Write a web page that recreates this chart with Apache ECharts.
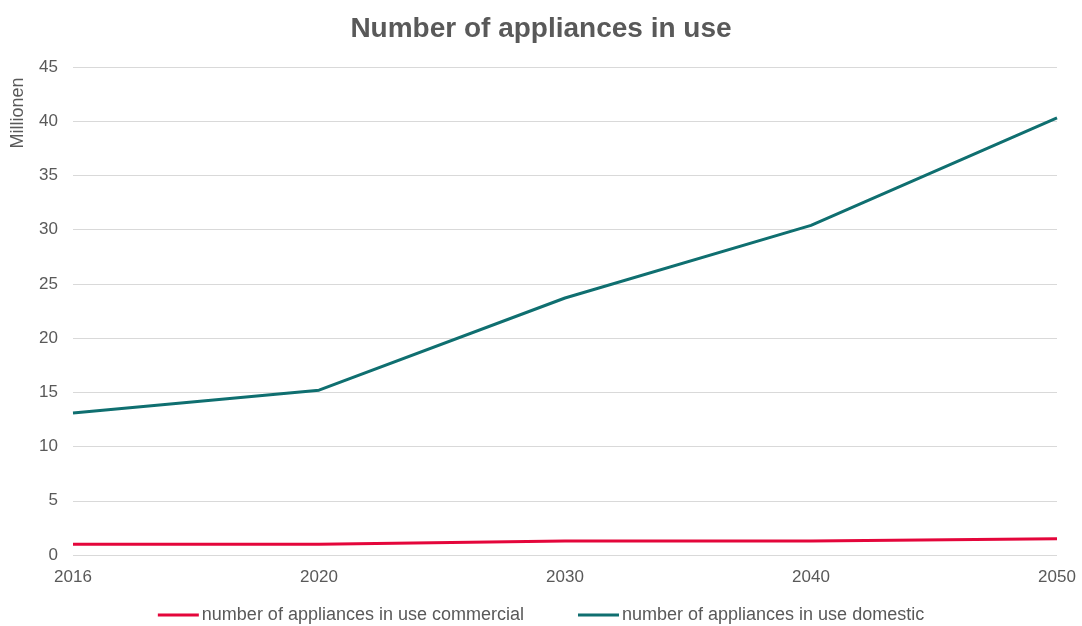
<!DOCTYPE html>
<html>
<head>
<meta charset="utf-8">
<script src="https://cdn.jsdelivr.net/npm/echarts@6/dist/echarts.min.js"></script>
<style>
  html, body { margin: 0; padding: 0; background: #ffffff; }
  #chart { width: 1082px; height: 626px; }
</style>
</head>
<body>
<div id="chart"></div>
<script>
// Years on the horizontal axis
const years = ['2016', '2020', '2030', '2040', '2050'];
// Appliances in use, in millions
const commercial = [1.0, 1.0, 1.3, 1.3, 1.5];
const domestic = [13.1, 15.2, 23.7, 30.4, 40.3];
const seriesNames = ['number of appliances in use commercial', 'number of appliances in use domestic'];
const unitLabel = 'Millionen';

const textColor = '#595959';
const fontFamily = '"Liberation Sans", Arial, sans-serif';

const chart = echarts.init(document.getElementById('chart'));
chart.setOption({
  animation: false,
  textStyle: { fontFamily: fontFamily },
  title: {
    text: 'Number of appliances in use',
    left: 'center',
    top: 10,
    textStyle: { color: textColor, fontSize: 28, fontWeight: 'bold', fontFamily: fontFamily }
  },
  legend: {
    bottom: 2,
    left: 'center',
    padding: 0,
    itemWidth: 41,
    itemHeight: 3,
    itemGap: 54,
    icon: 'rect',
    textStyle: { color: textColor, fontSize: 18, fontFamily: fontFamily, padding: [0, 0, 0, -2] },
    data: seriesNames
  },
  // Rotated unit label beside the value axis
  graphic: [{
    type: 'text',
    x: 18,
    y: 113,
    rotation: Math.PI / 2,
    style: {
      text: unitLabel,
      fill: textColor,
      font: '18px "Liberation Sans", Arial, sans-serif',
      textAlign: 'center',
      textVerticalAlign: 'middle'
    }
  }],
  grid: { left: 73, right: 25, top: 67, bottom: 71 },
  xAxis: {
    type: 'category',
    data: years,
    boundaryGap: false,
    axisLine: { show: false },
    axisTick: { show: false },
    axisLabel: { color: textColor, fontSize: 17, margin: 14 }
  },
  yAxis: {
    type: 'value',
    min: 0,
    max: 45,
    interval: 5,
    axisLine: { show: false },
    axisTick: { show: false },
    axisLabel: { color: textColor, fontSize: 17, margin: 15 },
    splitLine: { lineStyle: { color: '#d9d9d9', width: 1 } }
  },
  series: [
    {
      name: seriesNames[0],
      type: 'line',
      data: commercial,
      symbol: 'none',
      lineStyle: { color: '#e4063b', width: 3 },
      itemStyle: { color: '#e4063b' }
    },
    {
      name: seriesNames[1],
      type: 'line',
      data: domestic,
      symbol: 'none',
      lineStyle: { color: '#0f6f70', width: 3 },
      itemStyle: { color: '#0f6f70' }
    }
  ]
});
</script>
</body>
</html>
